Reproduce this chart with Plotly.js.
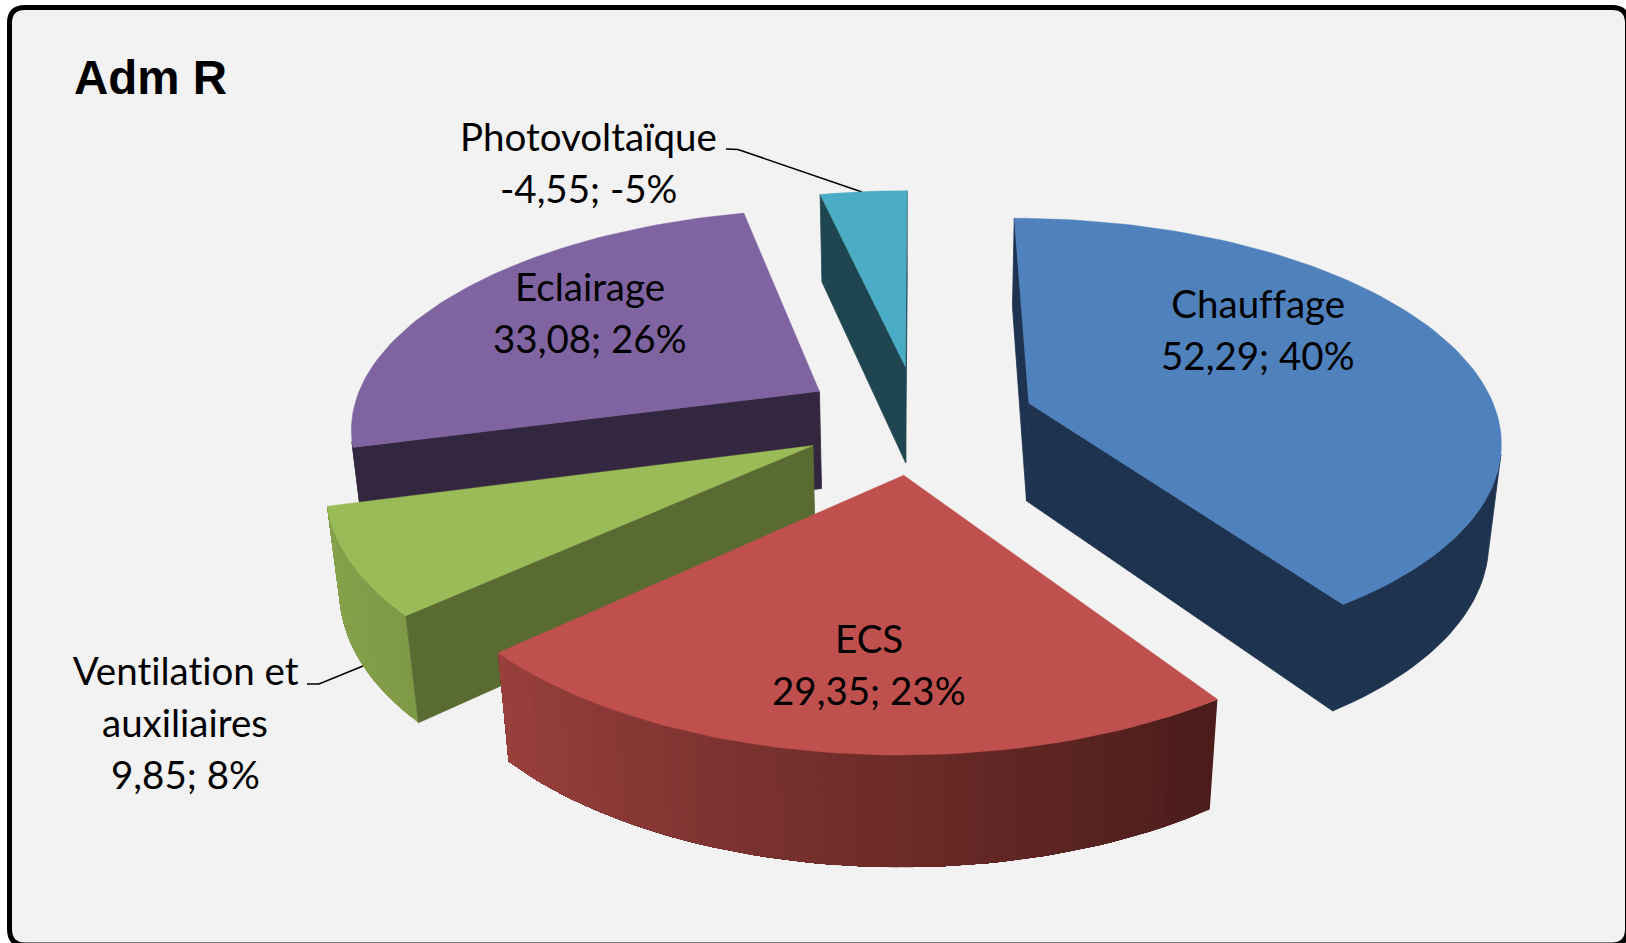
<!DOCTYPE html>
<html>
<head>
<meta charset="utf-8">
<script src="https://cdn.plot.ly/plotly-3.0.1.min.js"></script>
<style>
html,body{margin:0;padding:0;background:#fff;overflow:hidden}
#chart{width:1626px;height:943px}
#chart text{font-variant-ligatures:none !important;font-feature-settings:"liga" 0,"clig" 0,"dlig" 0 !important;text-rendering:optimizeSpeed}
</style>
</head>
<body>
<div id="chart"></div>
<script>
// ---- chart data ----
const chartTitle = "Adm R";
const categories = ["Chauffage", "ECS", "Ventilation et auxiliaires", "Eclairage", "Photovoltaïque"];
const values = [52.29, 29.35, 9.85, 33.08, -4.55];
const valueLabels = ["52,29", "29,35", "9,85", "33,08", "-4,55"];
const percentLabels = ["40%", "23%", "8%", "26%", "-5%"];

// ---- styling ----
const topColors = ["#4F81BD", "#C0504D", "#9BBB59", "#8064A2", "#4BACC6"];
const radialColors = ["#1E334F", "#4A1C1A", "#5A6B32", "#33273F", "#1F4650"];
const wallStart = ["#1E334F", "#4A1C1A", "#7E9A47", "#33273F", "#1F4650"];
const wallEnd = ["#1E334F", "#9A403C", "#87A34B", "#33273F", "#1F4650"];
const labelLines = [
  [categories[0]],
  [categories[1]],
  ["Ventilation et", "auxiliaires"],
  [categories[3]],
  [categories[4]]
];
const labelCenters = [[1258, 329], [869, 664], [185, 722], [590, 312], [588, 162]];
const paintOrder = [3, 4, 0, 2, 1];

// ---- projection of the exploded pie (perspective, 3D look) ----
const CX = 917.9, CY = 419, R = 469.5, A = 217.8, H = 100.6, K = 0.153, M = 0.022, EXPLODE = 0.25;
function project(u, v, z) {
  const s = 1 / (1 - K * v + M * z);
  return [CX + R * u * s, CY + (A * v + H * z) * s];
}
const total = values.reduce((a, b) => a + Math.abs(b), 0);
const rad = d => d * Math.PI / 180;
function hex(c) { return [1, 3, 5].map(i => parseInt(c.substr(i, 2), 16)); }
function mix(a, b, t) {
  const x = hex(a), y = hex(b);
  return "rgb(" + x.map((p, i) => Math.round(p + (y[i] - p) * t)).join(",") + ")";
}
function poly(pts, color, stroke) {
  const xs = pts.map(p => p[0]), ys = pts.map(p => p[1]);
  xs.push(xs[0]); ys.push(ys[0]);
  return {type: "scatter", mode: "lines", x: xs, y: ys, fill: "toself", fillcolor: color,
          line: {color: color, width: stroke || 0}, hoverinfo: "skip", showlegend: false};
}
function visible(pts) {
  let a = 0;
  pts.forEach((p, i) => { const q = pts[(i + 1) % pts.length]; a += p[0] * q[1] - q[0] * p[1]; });
  return a < 0;
}

// angular spans derived from the values
let acc = 0;
const spans = values.map(v => { const s = acc; acc += Math.abs(v) / total * 360; return [s, acc]; });

const traces = [];
paintOrder.forEach(i => {
  const [a0, a1] = spans[i];
  const mid = rad((a0 + a1) / 2);
  const ox = EXPLODE * Math.sin(mid), oy = -EXPLODE * Math.cos(mid);
  const rim = (deg, z) => project(ox + Math.sin(rad(deg)), oy - Math.cos(rad(deg)), z);
  const apex = z => project(ox, oy, z);
  const step = 1.5;
  const angs = [];
  for (let d = a0; d < a1; d += step) angs.push(d);
  angs.push(a1);
  // outer wall: only its viewer-facing run, painted as overlapping bands so no seams show
  const facing = [];
  for (let j = 0; j + 1 < angs.length; j++) {
    if (visible([rim(angs[j], 0), rim(angs[j + 1], 0), rim(angs[j + 1], 1), rim(angs[j], 1)])) facing.push(j);
  }
  if (facing.length) {
    const last = facing[facing.length - 1] + 1;
    const flat = wallStart[i] === wallEnd[i];
    const bandStarts = flat ? [facing[0]] : facing;
    bandStarts.forEach(j => {
      const run = angs.slice(j, last + 1);
      const pts = run.map(d => rim(d, 0)).concat(run.slice().reverse().map(d => rim(d, 1)));
      traces.push(poly(pts, flat ? wallStart[i] : mix(wallStart[i], wallEnd[i], (j + 0.5) / (angs.length - 1)), flat ? 0.8 : 0));
    });
  }
  // radial walls
  const w0 = [apex(0), rim(a0, 0), rim(a0, 1), apex(1)];
  const w1 = [rim(a1, 0), apex(0), apex(1), rim(a1, 1)];
  if (visible(w0)) traces.push(poly(w0, radialColors[i], 0.8));
  if (visible(w1)) traces.push(poly(w1, radialColors[i], 0.8));
  // top face
  traces.push(poly([apex(0)].concat(angs.map(d => rim(d, 0))), topColors[i], 0.4));
});

// ---- text ----
const LABEL_FONT = {family: "Lato, Carlito, 'Open Sans', sans-serif", size: 38.5, color: "#000"};
const LINE_GAP = 52;
const annotations = [{
  text: "<b>" + chartTitle + "</b>", x: 72, y: 77, xref: "x", yref: "y", xanchor: "left", yanchor: "middle",
  showarrow: false, font: {family: "'Liberation Sans', Arial, sans-serif", size: 47.5, color: "#000"}
}];
categories.forEach((c, i) => {
  const lines = labelLines[i].concat([valueLabels[i] + "; " + percentLabels[i]]);
  lines.forEach((t, j) => annotations.push({
    text: t, x: labelCenters[i][0], y: labelCenters[i][1] + (j - (lines.length - 1) / 2) * LINE_GAP,
    xref: "x", yref: "y", xanchor: "center", yanchor: "middle", showarrow: false, font: LABEL_FONT
  }));
});

const shapes = [
  {type: "path", xref: "x", yref: "y", layer: "below",
   path: "M 25 7.5 L 1612 7.5 Q 1627.5 7.5 1627.5 23 L 1627.5 929 Q 1627.5 945 1612 945 L 25 945 Q 9.5 945 9.5 929 L 9.5 23 Q 9.5 7.5 25 7.5 Z",
   fillcolor: "#F2F2F2", line: {color: "#000", width: 5}},
  {type: "path", xref: "x", yref: "y", layer: "below",
   path: "M 726 149 L 738 149.5 L 862 192", line: {color: "#000", width: 1.6}},
  {type: "path", xref: "x", yref: "y", layer: "below",
   path: "M 307 684 L 319 684 L 363 666", line: {color: "#000", width: 1.6}}
];

const layout = {
  width: 1626, height: 943, margin: {l: 0, r: 0, t: 0, b: 0},
  paper_bgcolor: "#fff", plot_bgcolor: "rgba(0,0,0,0)", showlegend: false, hovermode: false,
  xaxis: {range: [0, 1626], visible: false, fixedrange: true},
  yaxis: {range: [943, 0], visible: false, fixedrange: true},
  shapes: shapes, annotations: annotations
};
Plotly.newPlot("chart", traces, layout, {displayModeBar: false, staticPlot: true});
</script>
</body>
</html>
